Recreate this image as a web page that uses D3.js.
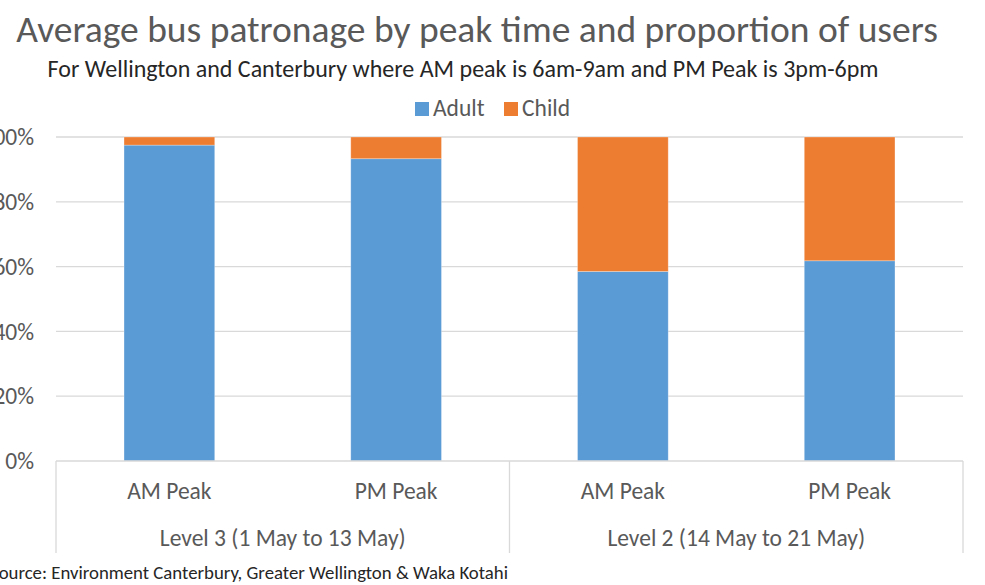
<!DOCTYPE html>
<html>
<head>
  <style>
    body { margin: 0; background: #fff; overflow: hidden; }
    svg { display: block; font-family: Carlito, Calibri, Lato, sans-serif; }
  </style>
</head>
<body>
  <svg width="985" height="585"></svg>
  <script src="https://d3js.org/d3.v7.min.js"></script>
  <script>
    const periods = ["Level 3 (1 May to 13 May)", "Level 2 (14 May to 21 May)"];
    const peaks = ["AM Peak", "PM Peak"];
    const adult = [97.5, 93.3, 58.5, 61.8];
    const child = [2.5, 6.7, 41.5, 38.2];
    const series = ["Adult", "Child"];
    const yTicks = [0, 20, 40, 60, 80, 100];

    const width = 985, height = 585;
    const svg = d3.select("svg").attr("viewBox", [0, 0, width, height]);

    const colors = d3.scaleOrdinal().domain(series).range(["#5B9BD5", "#ED7D31"]);
    const textColor = "#595959";

    // one row per bar, keyed by group + peak
    const rows = [];
    periods.forEach((p, i) => peaks.forEach((k, j) => {
      const n = i * peaks.length + j;
      rows.push({ id: n, period: p, peak: k, Adult: adult[n], Child: child[n] });
    }));

    const plot = { left: 56, right: 963, top: 137, bottom: 461 };

    const x = d3.scaleBand()
      .domain(rows.map(d => d.id))
      .range([plot.left, plot.right])
      .paddingInner(0.6)
      .paddingOuter(0.3);
    const band = (plot.right - plot.left) / rows.length;

    const y = d3.scaleLinear().domain([0, 100]).range([plot.bottom, plot.top]);

    // gridlines
    svg.append("g")
      .selectAll("line")
      .data(yTicks.filter(t => t > 0))
      .join("line")
      .attr("x1", plot.left)
      .attr("x2", plot.right)
      .attr("y1", d => y(d))
      .attr("y2", d => y(d))
      .attr("stroke", "#d9d9d9")
      .attr("stroke-width", 1.3);

    // y tick labels (the left edge of the original is cropped)
    svg.append("g")
      .attr("font-size", "23.5px")
      .attr("fill", textColor)
      .attr("text-anchor", "end")
      .selectAll("text")
      .data(yTicks)
      .join("text")
      .attr("x", 34)
      .attr("y", d => y(d))
      .attr("dy", "0.35em")
      .text(d => d + "%");

    // stacked bars
    const stacked = d3.stack().keys(series)(rows);
    svg.append("g")
      .selectAll("g")
      .data(stacked)
      .join("g")
      .attr("fill", d => colors(d.key))
      .selectAll("rect")
      .data(d => d)
      .join("rect")
      .attr("x", d => x(d.data.id))
      .attr("width", x.bandwidth())
      .attr("y", d => y(d[1]))
      .attr("height", d => y(d[0]) - y(d[1]))
      .attr("stroke", "rgba(255,255,255,0.35)")
      .attr("stroke-width", 0.8);

    // category axis frame
    const axis = svg.append("g").attr("stroke", "#d9d9d9").attr("stroke-width", 1.3);
    axis.append("line")
      .attr("x1", plot.left).attr("x2", plot.right)
      .attr("y1", plot.bottom).attr("y2", plot.bottom);
    const dividers = d3.range(periods.length + 1).map(i => plot.left + i * band * peaks.length);
    axis.selectAll("line.div")
      .data(dividers)
      .join("line")
      .attr("class", "div")
      .attr("x1", d => d).attr("x2", d => d)
      .attr("y1", plot.bottom).attr("y2", 553);

    // peak labels
    svg.append("g")
      .attr("font-size", "23.5px")
      .attr("fill", textColor)
      .attr("text-anchor", "middle")
      .selectAll("text")
      .data(rows)
      .join("text")
      .attr("x", d => x(d.id) + x.bandwidth() / 2)
      .attr("y", 499)
      .text(d => d.peak);

    // period labels
    svg.append("g")
      .attr("font-size", "23.5px")
      .attr("fill", textColor)
      .attr("text-anchor", "middle")
      .selectAll("text")
      .data(periods)
      .join("text")
      .attr("x", (d, i) => (dividers[i] + dividers[i + 1]) / 2)
      .attr("y", 546)
      .text(d => d);

    // title + subtitle
    svg.append("text")
      .attr("x", 477)
      .attr("y", 42)
      .attr("text-anchor", "middle")
      .attr("font-size", "37.5px")
      .attr("fill", textColor)
      .text("Average bus patronage by peak time and proportion of users");
    svg.append("text")
      .attr("x", 463)
      .attr("y", 77)
      .attr("text-anchor", "middle")
      .attr("font-size", "24px")
      .attr("fill", "#262626")
      .text("For Wellington and Canterbury where AM peak is 6am-9am and PM Peak is 3pm-6pm");

    // legend
    const legend = svg.append("g").attr("font-size", "23.5px").attr("fill", textColor);
    const legendX = [415, 504];
    series.forEach((s, i) => {
      legend.append("rect")
        .attr("x", legendX[i]).attr("y", 102)
        .attr("width", 14).attr("height", 14)
        .attr("fill", colors(s));
      legend.append("text")
        .attr("x", legendX[i] + 18).attr("y", 116)
        .text(s);
    });

    // source
    svg.append("text")
      .attr("x", -10)
      .attr("y", 579)
      .attr("font-size", "18.8px")
      .attr("fill", "#262626")
      .text("Source: Environment Canterbury, Greater Wellington & Waka Kotahi");
  </script>
</body>
</html>
